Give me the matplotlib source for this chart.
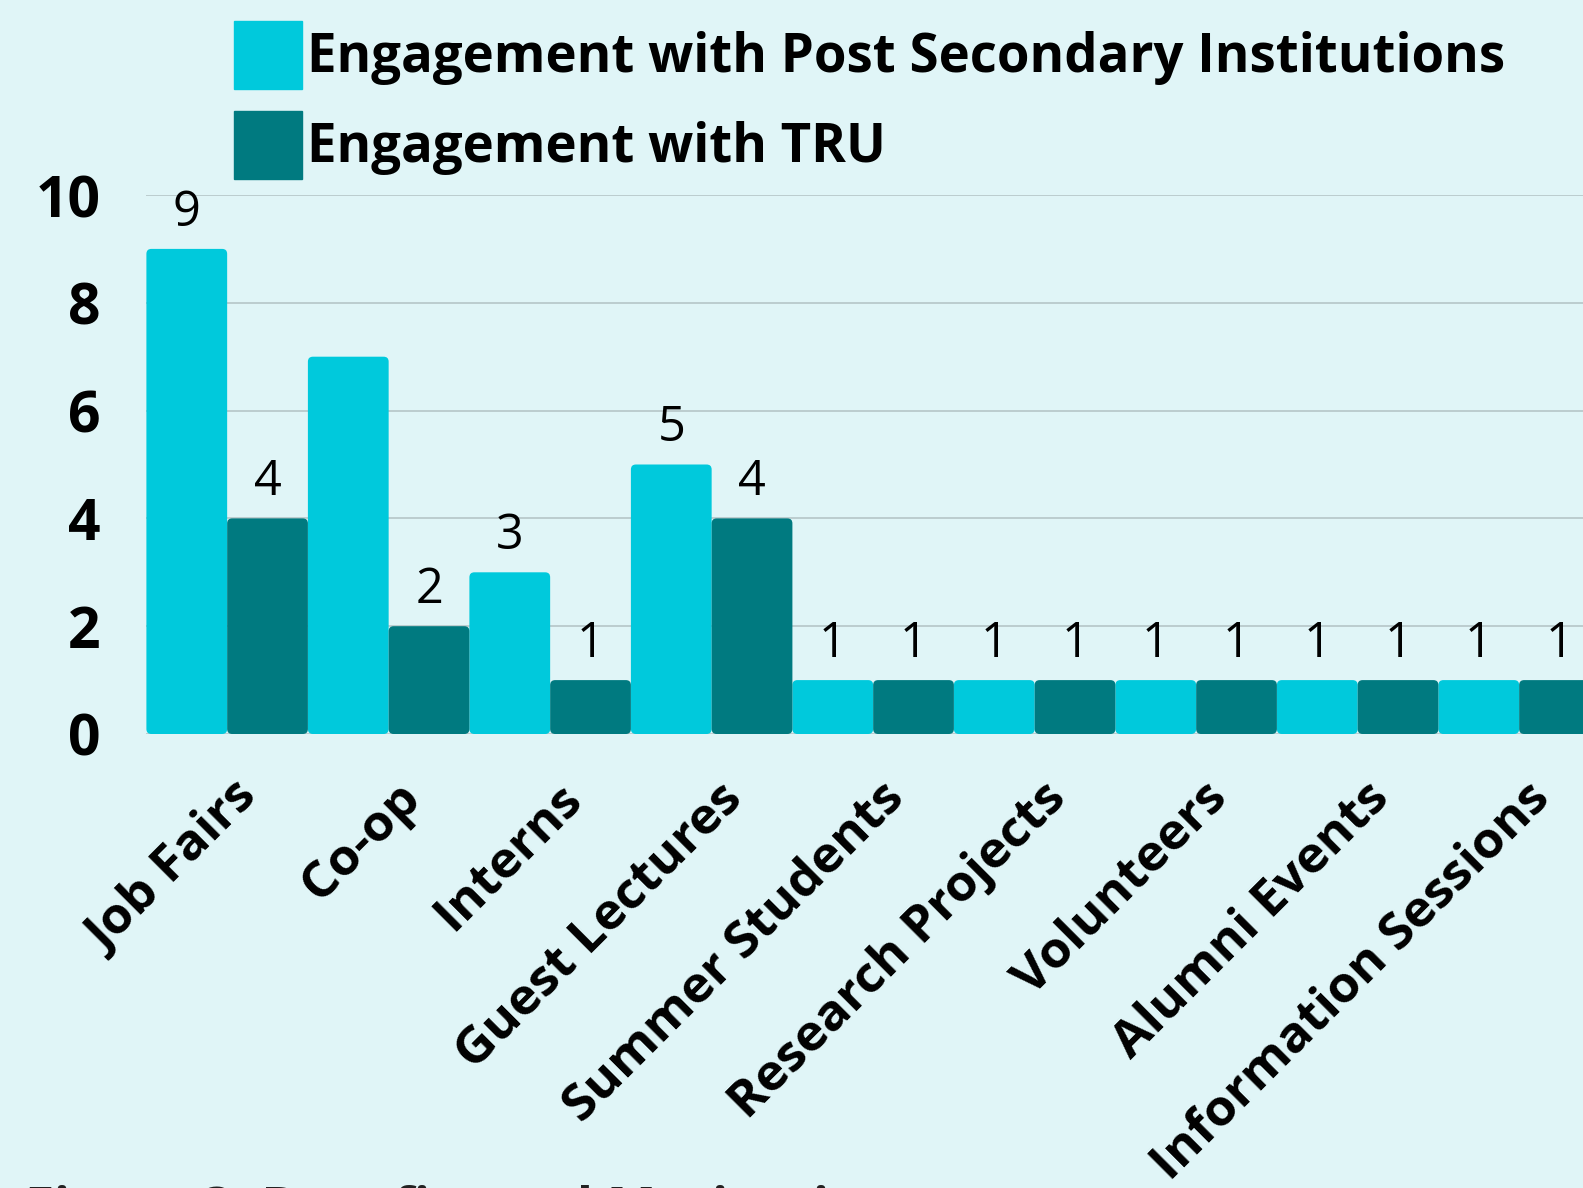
import matplotlib
matplotlib.use("Agg")
import matplotlib.pyplot as plt
import matplotlib.transforms as mtransforms
from matplotlib.patches import FancyBboxPatch
import numpy as np

categories = ["Job Fairs", "Co-op", "Interns", "Guest Lectures", "Summer Students",
              "Research Projects", "Volunteers", "Alumni Events", "Information Sessions"]
post_secondary = [9, 7, 3, 5, 1, 1, 1, 1, 1]
tru = [4, 2, 1, 4, 1, 1, 1, 1, 1]
# value labels as shown in the reference (the Co-op post-secondary bar has none)
post_secondary_labels = ["9", "", "3", "5", "1", "1", "1", "1", "1"]
tru_labels = ["4", "2", "1", "4", "1", "1", "1", "1", "1"]
series_names = ["Engagement with Post Secondary Institutions", "Engagement with TRU"]
yticks = [0, 2, 4, 6, 8, 10]
caption = "Figure 3: Benefits and Motivations"

BG = "#E0F5F7"
C1 = "#00C9DC"
C2 = "#007A80"
FONT = "Open Sans"

W, H = 1583, 1188
fig = plt.figure(figsize=(W / 100, H / 100), dpi=100, facecolor=BG)

left_px, right_px = 146.4, 146.4 + 9 * 161.5
top_px, bot_px = 195, 734
ax = fig.add_axes([left_px / W, 1 - bot_px / H, (right_px - left_px) / W, (bot_px - top_px) / H])
ax.set_facecolor(BG)

x = np.arange(len(categories))
w = 0.5
b1 = ax.bar(x - w / 2, post_secondary, width=w, color=C1, zorder=3, linewidth=0)
b2 = ax.bar(x + w / 2, tru, width=w, color=C2, zorder=3, linewidth=0)

ax.set_xlim(-0.5, len(categories) - 0.5)
ax.set_ylim(0, 10)

# give the bars slightly rounded corners, like the reference
px_per_x = (right_px - left_px) / len(categories)
px_per_y = (bot_px - top_px) / 10
radius_px = 5
for bars, col in ((b1, C1), (b2, C2)):
    for r in bars:
        r.set_visible(False)
        fp = FancyBboxPatch((r.get_x(), r.get_y()), r.get_width(), r.get_height(),
                            boxstyle=f"round,pad=0,rounding_size={radius_px / px_per_x}",
                            mutation_aspect=px_per_x / px_per_y,
                            facecolor=col, edgecolor="none", zorder=3)
        ax.add_patch(fp)

ax.set_yticks(yticks)
ax.set_yticklabels([str(t) for t in yticks], fontfamily=FONT, fontweight="bold", fontsize=41)
ax.tick_params(axis="y", length=0, pad=33)
ax.yaxis.grid(True, color="#B5C6C7", linewidth=1.2, zorder=0)
for s in ax.spines.values():
    s.set_visible(False)

ax.set_xticks(x)
ax.set_xticklabels(categories, rotation=45, ha="right", va="center", rotation_mode="anchor",
                   fontfamily=FONT, fontweight="bold", fontsize=37)
ax.tick_params(axis="x", length=0, pad=41)
shift = mtransforms.ScaledTranslation(0.24, 0, fig.dpi_scale_trans)
for lab in ax.get_xticklabels():
    lab.set_transform(lab.get_transform() + shift)

for bars, vals, labs in ((b1, post_secondary, post_secondary_labels), (b2, tru, tru_labels)):
    for r, v, lab in zip(bars, vals, labs):
        if not lab:
            continue
        ax.annotate(lab, (r.get_x() + r.get_width() / 2, v), xytext=(0, 8),
                    textcoords="offset points", ha="center", va="bottom",
                    fontfamily=FONT, fontsize=35, color="black", zorder=4)

handles = [plt.Rectangle((0, 0), 1, 1, color=C1), plt.Rectangle((0, 0), 1, 1, color=C2)]
leg = fig.legend(handles, series_names, loc="upper left", bbox_to_anchor=(234 / W, 1 - 21 / H),
                 frameon=False, prop={"family": FONT, "weight": "bold", "size": 38},
                 handlelength=1.28, handleheight=1.6, handletextpad=0.1, labelspacing=0.42,
                 borderaxespad=0, borderpad=0)

fig.text(25 / W, 1 - 1185 / H, caption, ha="left", va="top",
         fontfamily=FONT, fontweight="bold", fontsize=38, color="#222222")

fig.savefig("out.png", dpi=100, facecolor=BG)
